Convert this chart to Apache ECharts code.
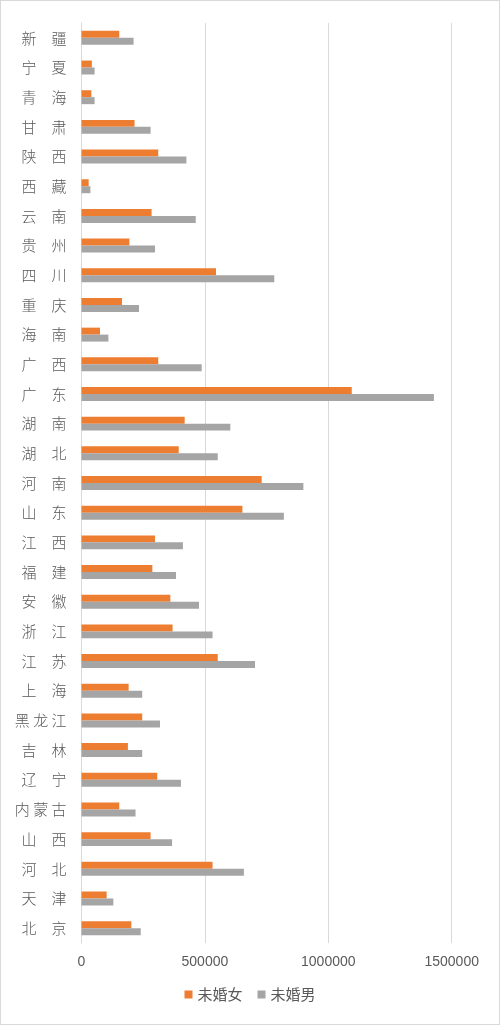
<!DOCTYPE html>
<html>
<head>
<meta charset="utf-8">
<script src="https://cdn.jsdelivr.net/npm/echarts@6/dist/echarts.min.js"></script>
<style>
html,body{margin:0;padding:0;background:#fff;}
#frame{position:absolute;left:0;top:0;width:500px;height:1025px;box-sizing:border-box;border:1px solid #D9D9D9;}
#chart{position:absolute;left:0;top:0;width:500px;height:1025px;}
</style>
</head>
<body>
<div id="frame"></div>
<div id="chart"></div>
<script>
const categories = ['北京','天津','河北','山西','内蒙古','辽宁','吉林','黑龙江','上海','江苏','浙江','安徽','福建','江西','山东','河南','湖北','湖南','广东','广西','海南','重庆','四川','贵州','云南','西藏','陕西','甘肃','青海','宁夏','新疆'];
const femaleUnmarried = [202000,102000,531000,280000,153000,307000,188000,246000,191000,552000,369000,360000,287000,298000,652000,730000,394000,418000,1095000,311000,75000,164000,545000,194000,284000,29000,311000,215000,40000,42000,153000];
const maleUnmarried = [240000,129000,658000,367000,219000,403000,246000,318000,246000,703000,531000,476000,383000,411000,820000,899000,552000,603000,1428000,487000,109000,233000,781000,298000,463000,36000,425000,280000,53000,53000,211000];
const xTicks = {min:0, max:1500000, interval:500000};

const chart = echarts.init(document.getElementById('chart'));
const font = '"Noto Sans CJK SC", "Noto Sans", sans-serif';
chart.setOption({
  animation:false,
  backgroundColor:'transparent',
  textStyle:{fontFamily:font},
  grid:{left:81.5, right:48.3, top:23, bottom:82, containLabel:false},
  legend:{
    data:['未婚女','未婚男'],
    bottom:18, left:'center',
    icon:'rect', itemWidth:8, itemHeight:8, itemGap:15,
    textStyle:{color:'#595959', fontSize:15, fontFamily:font}
  },
  xAxis:{
    type:'value', min:xTicks.min, max:xTicks.max, interval:xTicks.interval,
    axisLine:{show:false}, axisTick:{show:false},
    splitLine:{show:true, lineStyle:{color:'#D9D9D9', width:1}},
    axisLabel:{color:'#595959', fontSize:14, margin:12, fontFamily:'"Liberation Sans", sans-serif',
      formatter:function(v){ return String(v); }}
  },
  yAxis:{
    type:'category', data:categories,
    axisLine:{show:true, lineStyle:{color:'#D9D9D9'}},
    axisTick:{show:false},
    axisLabel:{
      color:'#595959', fontSize:15, margin:15, fontFamily:font, fontWeight:300,
      formatter:function(v){
        const c = v.split('');
        return c.length===2 ? c[0]+'　'+c[1] : c.join(' ');
      }
    }
  },
  series:[
    {name:'未婚女', type:'bar', data:femaleUnmarried, itemStyle:{color:'#ED7D31'}, barGap:'0%', barCategoryGap:'53%'},
    {name:'未婚男', type:'bar', data:maleUnmarried, itemStyle:{color:'#A5A5A5'}, barGap:'0%', barCategoryGap:'53%'}
  ]
});
</script>
</body>
</html>
